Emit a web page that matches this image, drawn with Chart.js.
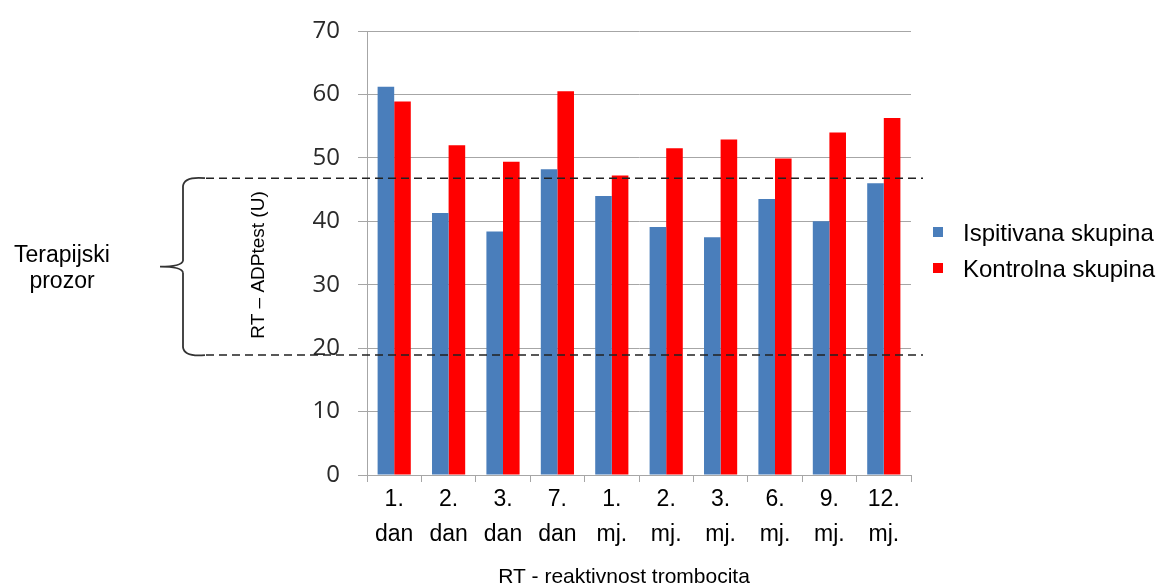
<!DOCTYPE html>
<html lang="hr">

<head>
    <meta charset="UTF-8">
    <title>RT - reaktivnost trombocita</title>
    <script src="https://cdn.jsdelivr.net/npm/chart.js"></script>
    <style>
        body {
            margin: 0;
            background: #fff;
        }
    </style>
</head>

<body>
    <canvas id="rtChart" width="1157" height="588"></canvas>

    <script>
        const categories = [
            ['1.', 'dan'], ['2.', 'dan'], ['3.', 'dan'], ['7.', 'dan'], ['1.', 'mj.'],
            ['2.', 'mj.'], ['3.', 'mj.'], ['6.', 'mj.'], ['9.', 'mj.'], ['12.', 'mj.']
        ];
        const ispitivana = [61.2, 41.3, 38.4, 48.2, 44.0, 39.1, 37.5, 43.5, 40.0, 46.0];
        const kontrolna = [58.9, 52.0, 49.4, 60.5, 47.2, 51.5, 52.9, 49.9, 54.0, 56.3];
        const seriesNames = ['Ispitivana skupina', 'Kontrolna skupina'];
        // granice terapijskog prozora (U)
        const windowLimits = [18.9, 46.8];
        const yTicks = [0, 10, 20, 30, 40, 50, 60, 70];

        const gridColor = '#a6a6a6';
        const sansFont = '"Liberation Sans", Arial, sans-serif';

        // dashed lines, brace, axis titles and legend drawn on top
        const overlayPlugin = {
            id: 'overlay',
            afterDatasetsDraw(chart) {
                const ctx = chart.ctx;
                const y = chart.scales.y;
                const yLow = y.getPixelForValue(windowLimits[0]);
                const yHigh = y.getPixelForValue(windowLimits[1]);
                const yMid = (yLow + yHigh) / 2;

                ctx.save();
                ctx.strokeStyle = '#222';
                ctx.lineWidth = 1.5;
                ctx.setLineDash([8, 5]);
                [yLow, yHigh].forEach(py => {
                    ctx.beginPath();
                    ctx.moveTo(206, py);
                    ctx.lineTo(923, py);
                    ctx.stroke();
                });
                ctx.setLineDash([]);

                // brace
                ctx.strokeStyle = '#333';
                ctx.lineWidth = 1.8;
                ctx.beginPath();
                ctx.moveTo(205, yHigh);
                ctx.quadraticCurveTo(184, yHigh - 2, 183, yHigh + 8);
                ctx.lineTo(183, yMid - 6);
                ctx.quadraticCurveTo(182, yMid, 160, yMid);
                ctx.moveTo(183, yMid + 6);
                ctx.quadraticCurveTo(182, yMid, 160, yMid);
                ctx.moveTo(183, yMid + 6);
                ctx.lineTo(183, yLow - 8);
                ctx.quadraticCurveTo(184, yLow + 2, 205, yLow);
                ctx.stroke();

                ctx.fillStyle = '#000';
                ctx.textAlign = 'center';
                ctx.textBaseline = 'middle';
                ctx.font = '23px ' + sansFont;
                ctx.fillText('Terapijski', 62, 256);
                ctx.fillText('prozor', 62, 282);

                ctx.font = '21px ' + sansFont;
                ctx.fillText('RT - reaktivnost trombocita', 624, 577);

                ctx.save();
                ctx.translate(259, 265);
                ctx.rotate(-Math.PI / 2);
                ctx.font = '19px ' + sansFont;
                ctx.fillText('RT \u2013 ADPtest (U)', 0, 0);
                ctx.restore();

                // legend
                ctx.textAlign = 'left';
                ctx.font = '24px ' + sansFont;
                chart.data.datasets.forEach((ds, i) => {
                    const ly = 232 + i * 36;
                    ctx.fillStyle = ds.backgroundColor;
                    ctx.fillRect(933, ly - 5, 10, 10);
                    ctx.fillStyle = '#000';
                    ctx.fillText(ds.label, 963, ly + 2);
                });
                ctx.restore();
            }
        };

        new Chart(document.getElementById('rtChart'), {
            type: 'bar',
            data: {
                labels: categories,
                datasets: [{
                    label: seriesNames[0],
                    data: ispitivana,
                    backgroundColor: '#4a7ebb'
                }, {
                    label: seriesNames[1],
                    data: kontrolna,
                    backgroundColor: '#ff0000'
                }]
            },
            options: {
                responsive: false,
                animation: false,
                events: [],
                layout: {
                    padding: { left: 307, right: 246, top: 31, bottom: 0 }
                },
                datasets: {
                    bar: {
                        categoryPercentage: 0.61,
                        barPercentage: 1
                    }
                },
                plugins: {
                    legend: { display: false },
                    tooltip: { enabled: false }
                },
                scales: {
                    x: {
                        grid: {
                            drawOnChartArea: false,
                            tickLength: 7,
                            color: gridColor
                        },
                        border: { color: gridColor },
                        ticks: {
                            padding: 0,
                            color: '#000',
                            font: { family: sansFont, size: 23, lineHeight: 1.52 },
                            maxRotation: 0,
                            autoSkip: false
                        },
                        afterFit(scale) {
                            scale.height = 113;
                            scale.paddingLeft = 0;
                            scale.paddingRight = 0;
                        }
                    },
                    y: {
                        min: 0,
                        max: 70,
                        afterBuildTicks(scale) {
                            scale.ticks = yTicks.map(v => ({ value: v }));
                        },
                        grid: {
                            color: gridColor,
                            tickLength: 9
                        },
                        border: { color: gridColor },
                        ticks: {
                            padding: 18,
                            color: '#2a2a2a',
                            font: { family: '"Open Sans", sans-serif', size: 24 }
                        },
                        afterFit(scale) {
                            scale.width = 60;
                            scale.paddingTop = 0;
                            scale.paddingBottom = 0;
                        }
                    }
                }
            },
            plugins: [overlayPlugin]
        });
    </script>
</body>

</html>
